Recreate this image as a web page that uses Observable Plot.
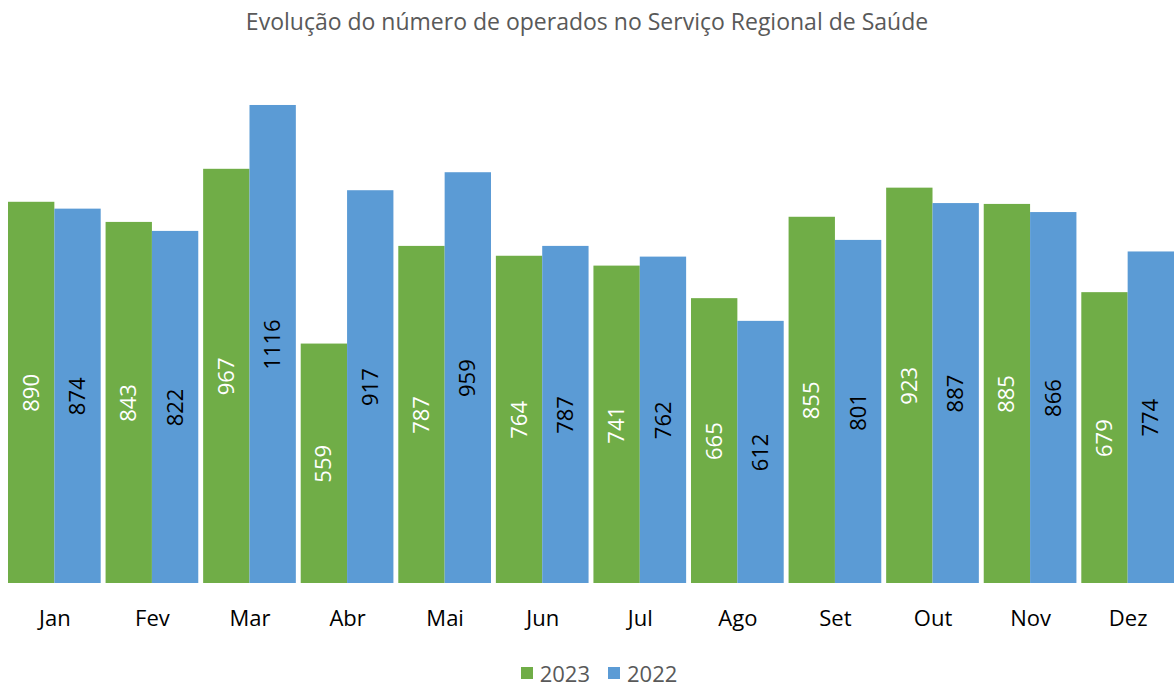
<!DOCTYPE html>
<html>
<head>
<meta charset="utf-8">
<script src="https://cdn.jsdelivr.net/npm/d3@7"></script>
<script src="https://cdn.jsdelivr.net/npm/@observablehq/plot@0.6"></script>
<style>
  html, body { margin: 0; padding: 0; background: #fff; font-family: "Open Sans", sans-serif; }
  #title { height: 40px; line-height: 42px; text-align: center; font-size: 23px; font-weight: 400; color: #595959; }
  #legend { height: 37px; padding-top: 8px; padding-left: 24px; box-sizing: border-box; display: flex; justify-content: center; align-items: center; font-size: 22px; color: #595959; }
  .sw { display: inline-block; width: 12px; height: 12px; margin-right: 7px; }
  .item { display: flex; align-items: center; margin: 0 9px; }
</style>
</head>
<body>
<div id="title">Evolução do número de operados no Serviço Regional de Saúde</div>
<div id="chart"></div>
<div id="legend"></div>
<script>
const months = ["Jan","Fev","Mar","Abr","Mai","Jun","Jul","Ago","Set","Out","Nov","Dez"];
const series = ["2023","2022"];
const values2023 = [890, 843, 967, 559, 787, 764, 741, 665, 855, 923, 885, 679];
const values2022 = [874, 822, 1116, 917, 959, 787, 762, 612, 801, 887, 866, 774];
const colors = ["#70AD47", "#5B9BD5"];
const labelColors = ["#ffffff", "#000000"];

const data = [];
months.forEach((m, i) => {
  data.push({month: m, year: "2023", value: values2023[i]});
  data.push({month: m, year: "2022", value: values2022[i]});
});

const chart = Plot.plot({
  width: 1174,
  height: 610,
  marginLeft: 8,
  marginRight: 0,
  marginTop: 29,
  marginBottom: 67,
  style: {fontFamily: "Open Sans, sans-serif", fontSize: "22px", background: "white"},
  fx: {domain: months, paddingInner: 0.05, paddingOuter: 0, round: false, axis: null},
  x: {domain: series, padding: 0, round: false, axis: null},
  y: {domain: [0, 1200], axis: null},
  color: {domain: series, range: colors},
  marks: [
    Plot.barY(data, {fx: "month", x: "year", y: "value", fill: "year", inset: 0}),
    Plot.text(data, {
      fx: "month", x: "year", y: d => d.value / 2,
      text: d => String(d.value), rotate: -90,
      fill: d => labelColors[series.indexOf(d.year)],
      fontSize: 22
    }),
    Plot.axisFx({anchor: "bottom", tickSize: 0, tickPadding: 27, label: null, fontSize: 22, color: "#000"})
  ]
});
document.getElementById("chart").appendChild(chart);

const legend = document.getElementById("legend");
series.forEach((s, i) => {
  const it = document.createElement("span");
  it.className = "item";
  it.innerHTML = `<span class="sw" style="background:${colors[i]}"></span>${s}`;
  legend.appendChild(it);
});
</script>
</body>
</html>
